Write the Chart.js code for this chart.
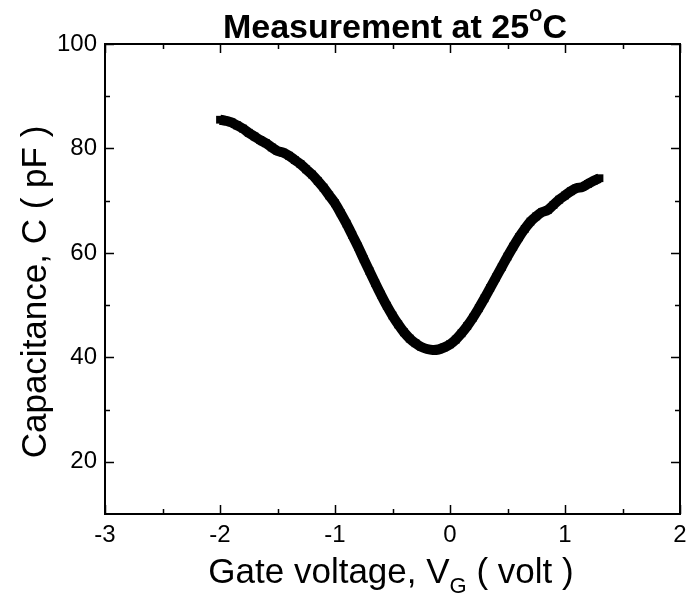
<!DOCTYPE html>
<html>
<head>
<meta charset="utf-8">
<script src="https://cdn.jsdelivr.net/npm/chart.js@4/dist/chart.umd.min.js"></script>
<style>
  html, body { margin: 0; padding: 0; background: #fff; }
  #wrap { width: 688px; height: 599px; }
</style>
</head>
<body>
<div id="wrap"><canvas id="cvChart"></canvas></div>
<script>
// gate voltage (V) and capacitance (pF)
const voltage = [-2.00,-1.95,-1.90,-1.85,-1.80,-1.75,-1.70,-1.65,-1.60,-1.55,-1.50,-1.45,-1.40,-1.35,-1.30,-1.25,-1.20,-1.15,-1.10,-1.05,
  -1.00,-0.95,-0.90,-0.85,-0.80,-0.75,-0.70,-0.65,-0.60,-0.55,-0.50,-0.45,-0.40,-0.35,-0.30,-0.25,-0.20,-0.15,-0.10,-0.05,
  0.00,0.05,0.10,0.15,0.20,0.25,0.30,0.35,0.40,0.45,0.50,0.55,0.60,0.65,0.70,0.75,0.80,0.85,0.90,0.95,
  1.00,1.05,1.10,1.15,1.20,1.25,1.30];
const capacitance = [85.5,85.3,85.0,84.4,83.8,83.0,82.3,81.6,81.0,80.2,79.5,79.2,78.6,77.8,77.0,76.0,75.0,73.8,72.5,71.0,
  69.5,67.6,65.6,63.4,61.2,58.8,56.5,54.2,52.0,49.9,48.0,46.3,44.8,43.6,42.7,42.0,41.6,41.4,41.5,41.9,
  42.5,43.4,44.6,46.0,47.6,49.4,51.3,53.3,55.3,57.3,59.3,61.2,63.0,64.6,66.0,67.0,67.8,68.2,69.2,70.2,
  71.0,71.8,72.4,72.6,73.2,73.8,74.3];

const xTicks = [-3, -2, -1, 0, 1, 2];
const xMinor = [-2.5, -1.5, -0.5, 0.5, 1.5];
const yTicks = [20, 40, 60, 80, 100];
const yMinor = [30, 50, 70, 90];

const FONT = '"Liberation Sans", Arial, sans-serif';

// frame, inward ticks and the titles with super/subscripts
const framePlugin = {
  id: 'frame',
  afterDraw(chart) {
    const ctx = chart.ctx, a = chart.chartArea;
    const xs = chart.scales.x, ys = chart.scales.y;
    ctx.save();
    ctx.strokeStyle = '#000';
    ctx.lineWidth = 2;
    ctx.strokeRect(a.left, a.top, a.right - a.left, a.bottom - a.top);
    ctx.lineWidth = 1.5;
    ctx.beginPath();
    const tick = (v, len, isX) => {
      if (isX) {
        const p = Math.round(xs.getPixelForValue(v)) + 0.5;
        ctx.moveTo(p, a.bottom); ctx.lineTo(p, a.bottom - len);
        ctx.moveTo(p, a.top); ctx.lineTo(p, a.top + len);
      } else {
        const p = Math.round(ys.getPixelForValue(v)) + 0.5;
        ctx.moveTo(a.left, p); ctx.lineTo(a.left + len, p);
        ctx.moveTo(a.right, p); ctx.lineTo(a.right - len, p);
      }
    };
    xTicks.forEach(v => tick(v, 9, true));
    xMinor.forEach(v => tick(v, 5, true));
    yTicks.forEach(v => tick(v, 9, false));
    yMinor.forEach(v => tick(v, 5, false));
    ctx.stroke();

    ctx.fillStyle = '#000';
    ctx.textBaseline = 'alphabetic';
    ctx.textAlign = 'left';

    // title
    const t1 = 'Measurement at 25', t2 = 'C';
    ctx.font = 'bold 22px ' + FONT;
    const wo = ctx.measureText('o').width;
    ctx.font = 'bold 34px ' + FONT;
    const w1 = ctx.measureText(t1).width, w2 = ctx.measureText(t2).width;
    let x0 = 395 - (w1 + wo + w2) / 2;
    ctx.fillText(t1, x0, 38);
    ctx.font = 'bold 22px ' + FONT;
    ctx.fillText('o', x0 + w1, 21);
    ctx.font = 'bold 34px ' + FONT;
    ctx.fillText(t2, x0 + w1 + wo, 38);

    // x title
    ctx.font = '35px ' + FONT;
    const s1 = 'Gate voltage, V', s3 = ' ( volt )';
    const ws1 = ctx.measureText(s1).width, ws3 = ctx.measureText(s3).width;
    ctx.font = '22px ' + FONT;
    const ws2 = ctx.measureText('G').width;
    x0 = 391 - (ws1 + ws2 + ws3) / 2;
    ctx.font = '35px ' + FONT;
    ctx.fillText(s1, x0, 583);
    ctx.font = '22px ' + FONT;
    ctx.fillText('G', x0 + ws1, 593);
    ctx.font = '35px ' + FONT;
    ctx.fillText(s3, x0 + ws1 + ws2, 583);

    // y title
    ctx.translate(46, 292);
    ctx.rotate(-Math.PI / 2);
    ctx.textAlign = 'center';
    ctx.font = '35px ' + FONT;
    ctx.fillText('Capacitance, C ( pF )', 0, 0);
    ctx.restore();
  }
};

new Chart(document.getElementById('cvChart'), {
  type: 'scatter',
  data: {
    datasets: [{
      data: voltage.map((v, i) => ({ x: v, y: capacitance[i] })),
      showLine: true,
      borderColor: '#000',
      backgroundColor: '#000',
      borderWidth: 10,
      pointStyle: 'rect',
      pointRadius: 5.5,
      pointBorderWidth: 0,
      tension: 0.3
    }]
  },
  options: {
    responsive: true,
    maintainAspectRatio: false,
    animation: false,
    layout: { padding: { top: 44, right: 0, left: 0, bottom: 0 } },
    plugins: { legend: { display: false }, tooltip: { enabled: false } },
    scales: {
      x: {
        type: 'linear', min: -3, max: 2,
        grid: { display: false, drawTicks: false }, border: { display: false },
        afterBuildTicks: s => { s.ticks = xTicks.map(v => ({ value: v })); },
        afterFit: s => { s.height = 85; s.paddingRight = 8; },
        ticks: { color: '#000', padding: 7, font: { family: FONT, size: 24 } }
      },
      y: {
        type: 'linear', min: 10, max: 100,
        grid: { display: false, drawTicks: false }, border: { display: false },
        afterBuildTicks: s => { s.ticks = yTicks.map(v => ({ value: v })); },
        afterFit: s => { s.width = 105; },
        ticks: { color: '#000', padding: 8, font: { family: FONT, size: 24 } }
      }
    }
  },
  plugins: [framePlugin]
});
</script>
</body>
</html>
